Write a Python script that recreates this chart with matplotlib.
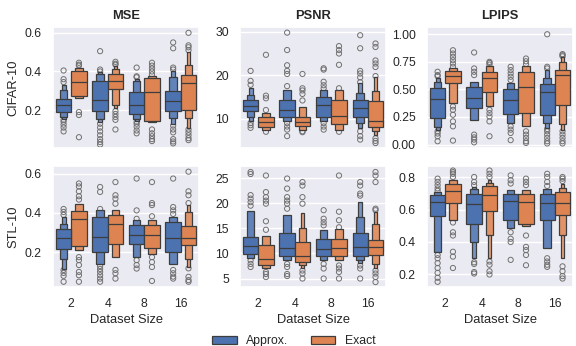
import numpy as np
import matplotlib
matplotlib.use("Agg")
import matplotlib.pyplot as plt
import seaborn as sns
from matplotlib.patches import Patch

sizes = ["2", "4", "8", "16"]
metrics = ["MSE", "PSNR", "LPIPS"]
datasets = ["CIFAR-10", "STL-10"]
methods = ["Approx.", "Exact"]

# one entry per dataset size: (median, lower letter values inner->outer,
#                              upper letter values inner->outer, outliers)
mse_cifar_approx = [
    (0.228, [0.19, 0.165, 0.155], [0.26, 0.305, 0.33], [0.405, 0.36, 0.345, 0.15, 0.14, 0.125, 0.11, 0.09]),
    (0.252, [0.195, 0.152, 0.14], [0.35, 0.385, 0.395], [0.505, 0.41, 0.40, 0.13, 0.11, 0.09, 0.07, 0.05, 0.035, 0.022]),
    (0.224, [0.178, 0.152, 0.145], [0.295, 0.35, 0.36], [0.42, 0.375, 0.37, 0.14, 0.13, 0.115, 0.095, 0.08]),
    (0.247, [0.198, 0.16, 0.13], [0.30, 0.372, 0.40], [0.55, 0.52, 0.42, 0.41, 0.12, 0.10, 0.085, 0.05, 0.038, 0.028]),
]
mse_cifar_exact = [
    (0.345, [0.272, 0.262], [0.40, 0.42], [0.445, 0.435, 0.43, 0.19, 0.175, 0.06]),
    (0.352, [0.31, 0.225, 0.21], [0.385, 0.415, 0.43], [0.45, 0.44, 0.435, 0.195, 0.18, 0.165, 0.15, 0.10]),
    (0.295, [0.145, 0.14], [0.364, 0.375], [0.445, 0.43, 0.415, 0.40, 0.385, 0.10, 0.08, 0.065, 0.05, 0.04]),
    (0.34, [0.203, 0.16, 0.11], [0.384, 0.435, 0.50], [0.60, 0.535, 0.525, 0.51, 0.10, 0.085, 0.07, 0.055, 0.045]),
]
psnr_cifar_approx = [
    (13.0, [11.7, 10.5, 9.4], [14.35, 15.5, 17.0], [21.0, 18.7, 17.8, 9.0, 8.5, 7.9]),
    (12.1, [10.5, 9.4], [14.35, 16.6], [29.8, 25.8, 22.3, 21.0, 20.3, 17.5, 9.0, 8.2, 7.5, 6.0]),
    (13.1, [10.5, 9.4], [15.0, 16.6], [21.6, 21.3, 18.5, 17.7, 17.0, 9.0, 8.2, 7.5]),
    (12.4, [10.5, 9.0, 7.9], [14.35, 15.9, 18.2], [29.2, 26.2, 21.0, 20.4, 19.5, 18.4, 7.1, 6.0, 5.2]),
]
psnr_cifar_exact = [
    (9.2, [8.2, 7.3], [10.5, 11.3], [24.7, 15.3, 14.7, 12.0, 7.0]),
    (9.2, [8.4, 7.5], [10.4, 12.8], [20.3, 17.0, 16.5, 15.7, 14.2, 7.1, 6.9]),
    (10.7, [8.8, 7.3], [14.35, 16.6], [26.7, 25.8, 25.0, 22.4, 17.0, 7.0]),
    (9.4, [8.2, 7.1, 6.3], [14.0, 16.3, 19.5], [27.3, 26.5, 23.4, 22.7, 21.9, 19.8, 5.5, 4.9, 4.4]),
]
lpips_cifar_approx = [
    (0.41, [0.24, 0.16, 0.13], [0.51, 0.57, 0.60], [0.66, 0.63, 0.62, 0.12, 0.10, 0.075, 0.03]),
    (0.426, [0.33, 0.225], [0.52, 0.57], [0.835, 0.69, 0.66, 0.63, 0.09, 0.065, 0.045, 0.02]),
    (0.405, [0.28, 0.195], [0.50, 0.555], [0.705, 0.675, 0.645, 0.615, 0.585, 0.165, 0.135, 0.105, 0.04]),
    (0.474, [0.27, 0.195, 0.15], [0.546, 0.60, 0.68], [1.0, 0.705, 0.69, 0.14, 0.12, 0.09, 0.06, 0.03, 0.01]),
]
lpips_cifar_exact = [
    (0.62, [0.56, 0.375], [0.667, 0.69], [0.855, 0.825, 0.795, 0.765, 0.735, 0.705, 0.345, 0.315, 0.27, 0.21, 0.165, 0.036]),
    (0.60, [0.48, 0.345], [0.66, 0.71], [0.75, 0.74, 0.725, 0.315, 0.285, 0.255, 0.21, 0.075]),
    (0.52, [0.285, 0.17], [0.66, 0.71], [0.78, 0.755, 0.73, 0.12, 0.09, 0.06, 0.03, 0.015]),
    (0.63, [0.36, 0.19, 0.135], [0.675, 0.75, 0.79], [0.82, 0.81, 0.80, 0.12, 0.09, 0.06, 0.03, 0.01]),
]
mse_stl_approx = [
    (0.27, [0.215, 0.168, 0.117], [0.32, 0.345, 0.38], [0.42, 0.405, 0.39, 0.11, 0.095, 0.08, 0.05]),
    (0.278, [0.2, 0.142], [0.38, 0.413], [0.532, 0.507, 0.42, 0.13, 0.115, 0.10, 0.083, 0.066, 0.05]),
    (0.29, [0.244, 0.176], [0.337, 0.363], [0.575, 0.413, 0.37, 0.16, 0.135, 0.117]),
    (0.273, [0.2, 0.142], [0.354, 0.38], [0.575, 0.43, 0.413, 0.395, 0.11, 0.093, 0.076, 0.066]),
]
mse_stl_exact = [
    (0.368, [0.232, 0.21], [0.41, 0.447], [0.55, 0.535, 0.51, 0.485, 0.468, 0.175, 0.16, 0.135, 0.10, 0.083, 0.05]),
    (0.342, [0.244, 0.176], [0.388, 0.413], [0.557, 0.49, 0.473, 0.447, 0.11, 0.093, 0.066]),
    (0.286, [0.224, 0.193], [0.337, 0.363], [0.557, 0.45, 0.44, 0.383, 0.175, 0.15, 0.125, 0.054]),
    (0.275, [0.236, 0.168, 0.125], [0.332, 0.405, 0.44], [0.61, 0.51, 0.49, 0.45, 0.118, 0.075, 0.058, 0.05]),
]
psnr_stl_approx = [
    (11.4, [9.8, 9.0], [13.3, 18.4], [26.2, 25.8, 21.6, 20.9, 20.2, 19.5, 8.6, 7.9, 7.3]),
    (11.1, [9.4, 8.6], [14.1, 17.6], [24.9, 22.9, 21.2, 20.5, 19.9, 18.9, 7.9, 7.3, 5.9, 5.5]),
    (10.8, [9.4, 8.6], [12.9, 14.6], [18.6, 16.9, 16.2, 15.6, 7.9, 7.0, 5.0]),
    (11.3, [9.4, 8.6, 8.0], [14.1, 17.3, 20.2], [24.2, 23.5, 21.9, 21.5, 7.6, 7.0, 5.0]),
]
psnr_stl_exact = [
    (8.8, [7.65, 7.0], [11.6, 13.4], [25.5, 22.2, 21.2, 20.5, 19.9, 16.4, 14.7, 6.3, 5.9, 5.3]),
    (9.4, [8.3, 7.65, 7.0], [12.3, 15.1, 18.0], [24.2, 23.5, 21.2, 19.9, 6.6, 6.0, 5.0]),
    (11.0, [9.4, 8.6], [12.9, 14.8], [25.5, 18.3, 16.6, 15.2, 7.6, 7.0, 6.3, 5.0]),
    (11.2, [9.6, 7.85, 7.0], [12.6, 15.8, 18.2], [26.2, 25.5, 24.2, 18.9, 18.6, 6.6, 6.0, 5.3, 4.3]),
]
lpips_stl_approx = [
    (0.647, [0.56, 0.34], [0.692, 0.708], [0.79, 0.77, 0.75, 0.73, 0.715, 0.32, 0.30, 0.27, 0.24, 0.21, 0.18, 0.155]),
    (0.636, [0.513, 0.40, 0.30], [0.698, 0.728, 0.74], [0.80, 0.77, 0.75, 0.275, 0.265, 0.215, 0.206]),
    (0.653, [0.534, 0.489], [0.698, 0.718], [0.81, 0.78, 0.76, 0.46, 0.42, 0.40, 0.29]),
    (0.64, [0.534, 0.36], [0.698, 0.728], [0.82, 0.80, 0.77, 0.745, 0.30, 0.28, 0.26, 0.247]),
]
lpips_stl_exact = [
    (0.712, [0.64, 0.534], [0.76, 0.78], [0.84, 0.83, 0.82, 0.80, 0.52, 0.46, 0.44, 0.34, 0.31, 0.24]),
    (0.692, [0.591, 0.442, 0.30], [0.743, 0.763, 0.78], [0.84, 0.82, 0.80, 0.28, 0.26, 0.22, 0.20]),
    (0.647, [0.513, 0.50], [0.698, 0.72], [0.79, 0.77, 0.75, 0.44, 0.37, 0.35, 0.32, 0.257]),
    (0.642, [0.565, 0.442, 0.30], [0.708, 0.735, 0.76], [0.80, 0.79, 0.775, 0.25, 0.22, 0.19, 0.175]),
]

panels = [
    [(mse_cifar_approx, mse_cifar_exact), (psnr_cifar_approx, psnr_cifar_exact), (lpips_cifar_approx, lpips_cifar_exact)],
    [(mse_stl_approx, mse_stl_exact), (psnr_stl_approx, psnr_stl_exact), (lpips_stl_approx, lpips_stl_exact)],
]
ylims = [
    [(0.005, 0.63), (3.3, 31.1), (-0.03, 1.066)],
    [(0.024, 0.639), (3.35, 27.4), (0.124, 0.868)],
]
yticks = [
    [[0.2, 0.4, 0.6], [10, 20, 30], [0.0, 0.25, 0.5, 0.75, 1.0]],
    [[0.2, 0.4, 0.6], [5, 10, 15, 20, 25], [0.2, 0.4, 0.6, 0.8]],
]
yfmt = [["{:.1f}", "{:.0f}", "{:.2f}"], ["{:.1f}", "{:.0f}", "{:.1f}"]]

sns.set_theme(style="darkgrid")
plt.rcParams["font.family"] = ["Liberation Sans", "DejaVu Sans"]
colors = ["#4C72B0", "#DD8452"]
edge = "#3d3d3d"


def lighten(c, f):
    rgb = np.array(matplotlib.colors.to_rgb(c))
    return tuple(rgb + (1 - rgb) * f)


def draw_boxen(ax, x, box, color, width):
    med, lows, highs, outl = box
    n = len(lows)
    # outer levels first so inner boxes sit on top
    for j in reversed(range(n)):
        w = width * 0.5 ** j
        ax.bar(x, highs[j] - lows[j], bottom=lows[j], width=w,
               color=lighten(color, min(0.12 * j, 0.4)), edgecolor=edge,
               linewidth=0.9, zorder=3 + (n - j))
    ax.plot([x - width / 2, x + width / 2], [med, med], color=edge, lw=0.9, zorder=10)
    ax.scatter([x] * len(outl), outl, s=14, facecolors="none", edgecolors="#707070",
               linewidths=0.7, zorder=2)


fig, axes = plt.subplots(2, 3, figsize=(5.76, 3.46), dpi=100, sharex=True)
fig.subplots_adjust(left=0.092, right=0.995, top=0.922, bottom=0.171, wspace=0.28, hspace=0.15)

pos = np.arange(len(sizes))
bw = 0.42
for r in range(2):
    for c in range(3):
        ax = axes[r, c]
        for h, series in enumerate(panels[r][c]):
            off = -bw / 2 if h == 0 else bw / 2
            for i, box in enumerate(series):
                draw_boxen(ax, pos[i] + off, box, colors[h], bw)
        ax.set_ylim(*ylims[r][c])
        ax.set_yticks(yticks[r][c])
        ax.set_yticklabels([yfmt[r][c].format(t) for t in yticks[r][c]])
        ax.set_xlim(-0.5, 3.5)
        ax.grid(False, axis="x")
        ax.tick_params(labelsize=8.8, pad=2)
        if r == 0:
            ax.set_title(metrics[c], fontsize=9.3, fontweight="bold", pad=6)
        else:
            ax.set_xticks(pos)
            ax.set_xticklabels(sizes)
            ax.set_xlabel("Dataset Size", fontsize=9.3, labelpad=3)
        if c == 0:
            ax.set_ylabel(datasets[r], fontsize=9.3)

handles = [Patch(facecolor=colors[h], edgecolor=edge, linewidth=0.9, label=methods[h]) for h in range(2)]
fig.legend(handles=handles, loc="lower center", ncol=2, frameon=False, fontsize=8.8,
           bbox_to_anchor=(0.51, -0.035), handlelength=2.0, columnspacing=1.8)

fig.savefig("out.png", dpi=100)
